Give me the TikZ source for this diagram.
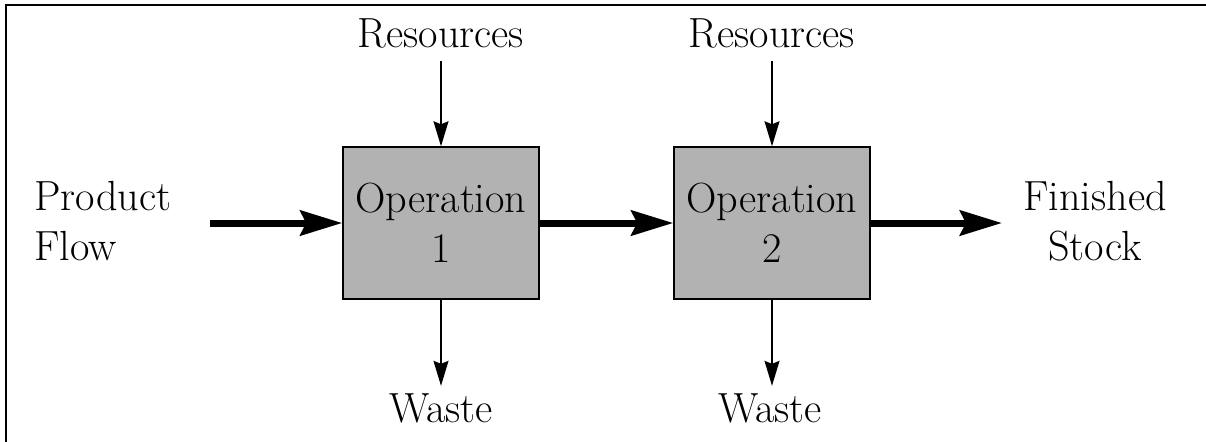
\documentclass[tikz,border=0pt]{standalone}
\usetikzlibrary{arrows.meta}
\usetikzlibrary{positioning}
\definecolor{opgray}{gray}{0.7}

\begin{document}
\begin{tikzpicture}[x=0.02cm,y=-0.02cm,
  font=\rmfamily\fontsize{24}{28.4}\selectfont,
  opbox/.style={draw,line width=0.03cm,fill=opgray,rectangle,minimum width=3.92cm,minimum height=3.04cm,align=center,inner sep=0pt},
  lbl/.style={inner sep=0pt},
  flow/.style={line width=0.14cm,-{Stealth[length=0.84cm,width=0.5cm,inset=0.12cm]}},
  side/.style={line width=0.03cm,-{Stealth[length=0.5cm,width=0.3cm,inset=0.06cm]}}]
\useasboundingbox (0,0) rectangle (1206,441);
\begin{scope}
\clip (0,0) rectangle (1206,441);
\draw[line width=0.04cm] (6,5) rectangle (1260,480);
\end{scope}
\node[opbox] (op1) at (441,223) {Operation\\1};
\node[opbox] (op2) at (772,223) {Operation\\2};
\node[lbl,anchor=base] (res1) at (441,47) {Resources};
\node[lbl,anchor=base] (res2) at (772,47) {Resources};
\node[lbl,anchor=base] (waste1) at (441,422) {Waste};
\node[lbl,anchor=base] (waste2) at (770,422) {Waste};
\node[lbl,anchor=west,align=left] (pf) at (34,221) {Product\\Flow};
\node[lbl,align=center] (fs) at (1095,221) {Finished\\Stock};
\coordinate (pfout) at (210,223);
\coordinate (fsin) at (1002,223);
\draw[flow] (pfout) to (op1);
\draw[flow] (op1) to (op2);
\draw[flow] (op2) to (fsin);
\draw[side,shorten <=7.4pt] (res1) to (op1);
\draw[side,shorten <=7.4pt] (res2) to (op2);
\draw[side,shorten >=4pt] (op1) to (waste1);
\draw[side,shorten >=4pt] (op2.south) to (op2.south |- waste2.north);
\end{tikzpicture}
\end{document}
